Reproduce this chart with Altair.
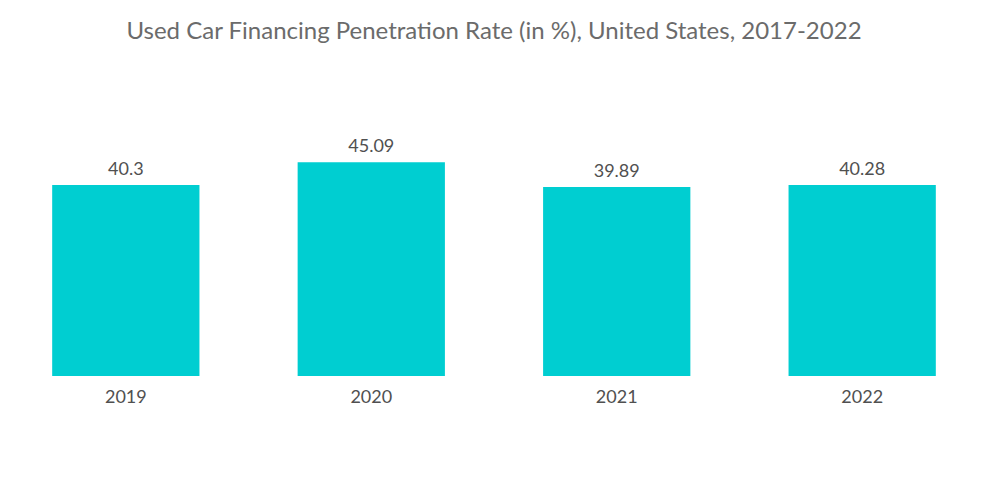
import altair as alt
import pandas as pd

years = ["2019", "2020", "2021", "2022"]
rates = [40.3, 45.09, 39.89, 40.28]
labels = ["40.3", "45.09", "39.89", "40.28"]

df = pd.DataFrame({"year": years, "rate": rates, "label": labels})

base = alt.Chart(df).encode(
    x=alt.X("year:N", sort=years,
            scale=alt.Scale(paddingInner=0.4, paddingOuter=0.18),
            axis=alt.Axis(title=None, labelAngle=0, ticks=False, domain=False,
                          labelFontSize=18, labelColor="#505050", labelFont="Lato",
                          labelPadding=12)),
    y=alt.Y("rate:Q", scale=alt.Scale(domain=[0, 50]), axis=None),
)

bars = base.mark_bar(color="#00CED1")
text = base.mark_text(dy=-6, baseline="bottom", fontSize=18, color="#505050", font="Lato").encode(text="label:N")

chart = (bars + text).properties(
    width=972, height=237,
    padding={"top": 12, "left": 0, "right": 0, "bottom": 0},
    title=alt.TitleParams("Used Car Financing Penetration Rate (in %), United States, 2017-2022",
                          fontSize=24, font="Lato", fontWeight="normal", color="#6b6b6b",
                          anchor="middle", offset=94),
).configure_view(stroke=None)

chart.save("out.html", embed_options={"renderer": "svg", "actions": False})
